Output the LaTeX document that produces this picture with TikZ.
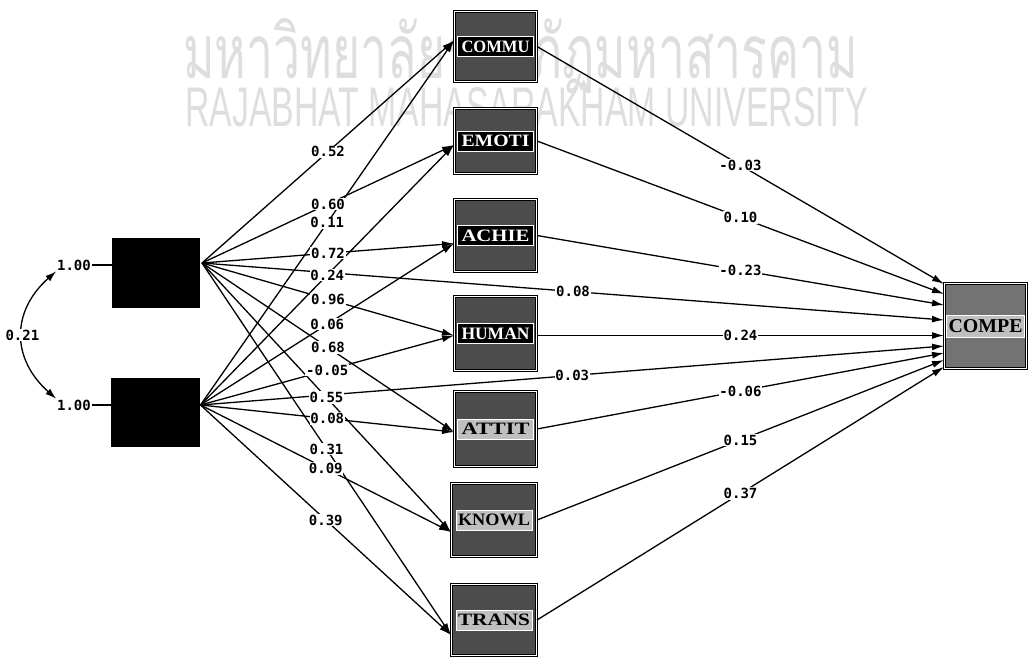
\documentclass[tikz,border=0pt]{standalone}
\usepackage{fontspec}
\setmainfont{Liberation Serif}
\newfontfamily\thaifont[Script=Thai]{Loma}
\newfontfamily\wmfont{Liberation Sans}
\newfontfamily\numfont{DejaVu Sans Mono}
\usetikzlibrary{arrows.meta,calc}
\newcommand\boxtxt[2]{\resizebox{#1}{11.5pt}{\bfseries #2}}
\begin{document}
\begin{tikzpicture}[x=1pt,y=-1pt,
  conn/.style={line width=1.3pt,-{Latex[length=12pt,width=7pt]}},
  plain/.style={line width=1.3pt},
  coef/.style={font=\numfont\bfseries\fontsize{14}{14}\selectfont,fill=white,inner sep=0.8pt},
  latent/.style={draw=black,fill=black,line width=1pt,inner sep=0},
  obs/.style={draw=black,line width=1pt,double=white,double distance=1.2pt,fill=black!70,inner sep=0},
  bandW/.style={fill=black,text=white,draw=white,line width=0.6pt,minimum width=76pt,minimum height=20pt,inner sep=0},
  bandB/.style={fill=black!25,text=black,draw=white,line width=0.6pt,minimum width=76pt,minimum height=20pt,inner sep=0},
  wm/.style={inner sep=0,text=black!13}
]
\useasboundingbox (0,0) rectangle (1030,661);

% watermark
\node[wm,anchor=base west] (wmth) at (183,78) {\resizebox{675pt}{60pt}{\thaifont มหาวิทยาลัยราชภัฏมหาสารคาม}};
\node[wm,anchor=south west] (wmen) at (185,127) {\resizebox{683pt}{39pt}{\wmfont RAJABHAT MAHASARAKHAM UNIVERSITY}};

% latent boxes
\node[latent,minimum width=87pt,minimum height=69pt] (k1) at (156,273) {};
\node[latent,minimum width=88pt,minimum height=68pt] (k2) at (155,412) {};

% observed boxes
\node[obs,minimum width=82pt,minimum height=70pt] (commu) at (495.5,46.5) {};
\node[obs,minimum width=82pt,minimum height=65pt] (emoti) at (495.5,141) {};
\node[obs,minimum width=82pt,minimum height=72pt] (achie) at (495.5,235.5) {};
\node[obs,minimum width=82pt,minimum height=74pt] (human) at (495.5,333.5) {};
\node[obs,minimum width=82pt,minimum height=75pt] (attit) at (495.5,429) {};
\node[obs,minimum width=85pt,minimum height=73pt] (knowl) at (494,520) {};
\node[obs,minimum width=85pt,minimum height=71pt] (trans) at (494,620) {};
\node[obs,minimum width=82pt,minimum height=85pt,fill=black!55] (compe) at (985.5,326) {};

\node[bandW] (commu-l) at (commu) {\boxtxt{68pt}{COMMU}};
\node[bandW] (emoti-l) at (emoti) {\boxtxt{68pt}{EMOTI}};
\node[bandW] (achie-l) at (achie) {\boxtxt{68pt}{ACHIE}};
\node[bandW] (human-l) at (human) {\boxtxt{68pt}{HUMAN}};
\node[bandB] (attit-l) at (attit) {\boxtxt{68pt}{ATTIT}};
\node[bandB] (knowl-l) at (knowl) {\boxtxt{72pt}{KNOWL}};
\node[bandB] (trans-l) at (trans) {\boxtxt{72pt}{TRANS}};
\node[bandB,minimum width=78pt,minimum height=22pt] (compe-l) at (compe) {\resizebox{74pt}{13pt}{\bfseries COMPE}};

% variances
\node[coef] (v1) at (74,265) {1.00};
\node[coef] (v2) at (74,405) {1.00};
\draw[plain] (v1.east) -- (v1.east -| k1.west);
\draw[plain] (v2.east) -- (v2.east -| k2.west);
\draw[line width=1.3pt,{Latex[length=11pt,width=7pt]}-{Latex[length=11pt,width=7pt]}]
  (v1.south west) .. controls +(-45,40) and +(-45,-40) .. (v2.north west) coordinate[pos=0.5] (mc);

% sources and targets
\coordinate (s1) at ($(k1.east)+(2,-10)$);
\coordinate (s2) at ($(k2.east)+(1,-7)$);
\coordinate (t-commu) at ($(commu.west)+(0,-6)$);
\coordinate (t-emoti) at ($(emoti.west)+(0,4)$);
\coordinate (t-achie) at ($(achie.west)+(0,8)$);
\coordinate (t-human) at ($(human.west)+(0,2)$);
\coordinate (t-attit) at ($(attit.west)+(0,3)$);
\coordinate (t-knowl) at ($(knowl.west)+(0,12)$);
\coordinate (t-trans) at ($(trans.west)+(0,15)$);
\coordinate (o-human) at ($(human.east)+(0,2)$);
\coordinate (c-commu) at ($(compe.west)+(0,-42)$);
\coordinate (c-emoti) at ($(compe.west)+(0,-32)$);
\coordinate (c-achie) at ($(compe.west)+(0,-21)$);
\coordinate (c-s1) at ($(compe.west)+(0,-6)$);
\coordinate (c-human) at ($(compe.west)+(0,9.5)$);
\coordinate (c-s2) at ($(compe.west)+(0,20)$);
\coordinate (c-attit) at ($(compe.west)+(0,27)$);
\coordinate (c-knowl) at ($(compe.west)+(0,34)$);
\coordinate (c-trans) at ($(compe.west)+(0,41)$);

% paths from KSI 1
\draw[conn] (s1) -- coordinate (a1) (t-commu);
\draw[conn] (s1) -- coordinate (a2) (t-emoti);
\draw[conn] (s1) -- coordinate (a3) (t-achie);
\draw[conn] (s1) -- coordinate (a4) (t-human);
\draw[conn] (s1) -- coordinate (a5) (t-attit);
\draw[conn] (s1) -- coordinate (a6) (t-knowl);
\draw[conn] (s1) -- coordinate (a7) (t-trans);
% paths from KSI 2
\draw[conn] (s2) -- coordinate (b1) (t-commu);
\draw[conn] (s2) -- coordinate (b2) (t-emoti);
\draw[conn] (s2) -- coordinate (b3) (t-achie);
\draw[conn] (s2) -- coordinate (b4) (t-human);
\draw[conn] (s2) -- coordinate (b5) (t-attit);
\draw[conn] (s2) -- coordinate (b6) (t-knowl);
\draw[conn] (s2) -- coordinate (b7) (t-trans);
% direct paths
\draw[conn] (s1) -- coordinate (d1) (c-s1);
\draw[conn] (s2) -- coordinate (d2) (c-s2);
% paths to COMPE
\draw[conn] (commu.east) -- coordinate (e1) (c-commu);
\draw[conn] (emoti.east) -- coordinate (e2) (c-emoti);
\draw[conn] (achie.east) -- coordinate (e3) (c-achie);
\draw[conn] (o-human) -- coordinate (e4) (c-human);
\draw[conn] (attit.east) -- coordinate (e5) (c-attit);
\draw[conn] (knowl.east) -- coordinate (e6) (c-knowl);
\draw[conn] (trans.east) -- coordinate (e7) (c-trans);

% coefficients
\node[coef] (la1) at (a1) {0.52};
\node[coef] (la2) at (a2) {0.60};
\node[coef] (la3) at (a3) {0.72};
\node[coef] (la4) at (a4) {0.96};
\node[coef] (la5) at (a5) {0.68};
\node[coef] (la6) at (a6) {0.55};
\node[coef] (la7) at (a7) {0.31};
\node[coef] (lb1) at (b1) {0.11};
\node[coef] (lb2) at (b2) {0.24};
\node[coef] (lb3) at (b3) {0.06};
\node[coef] (lb4) at (b4) {-0.05};
\node[coef] (lb5) at (b5) {0.08};
\node[coef] (lb6) at (b6) {0.09};
\node[coef] (lb7) at (b7) {0.39};
\node[coef] (ld1) at (d1) {0.08};
\node[coef] (ld2) at (d2) {0.03};
\node[coef] (le1) at (e1) {-0.03};
\node[coef] (le2) at (e2) {0.10};
\node[coef] (le3) at (e3) {-0.23};
\node[coef] (le4) at (e4) {0.24};
\node[coef] (le5) at (e5) {-0.06};
\node[coef] (le6) at (e6) {0.15};
\node[coef] (le7) at (e7) {0.37};
\node[coef] (lc) at (mc) {0.21};
\end{tikzpicture}
\end{document}
